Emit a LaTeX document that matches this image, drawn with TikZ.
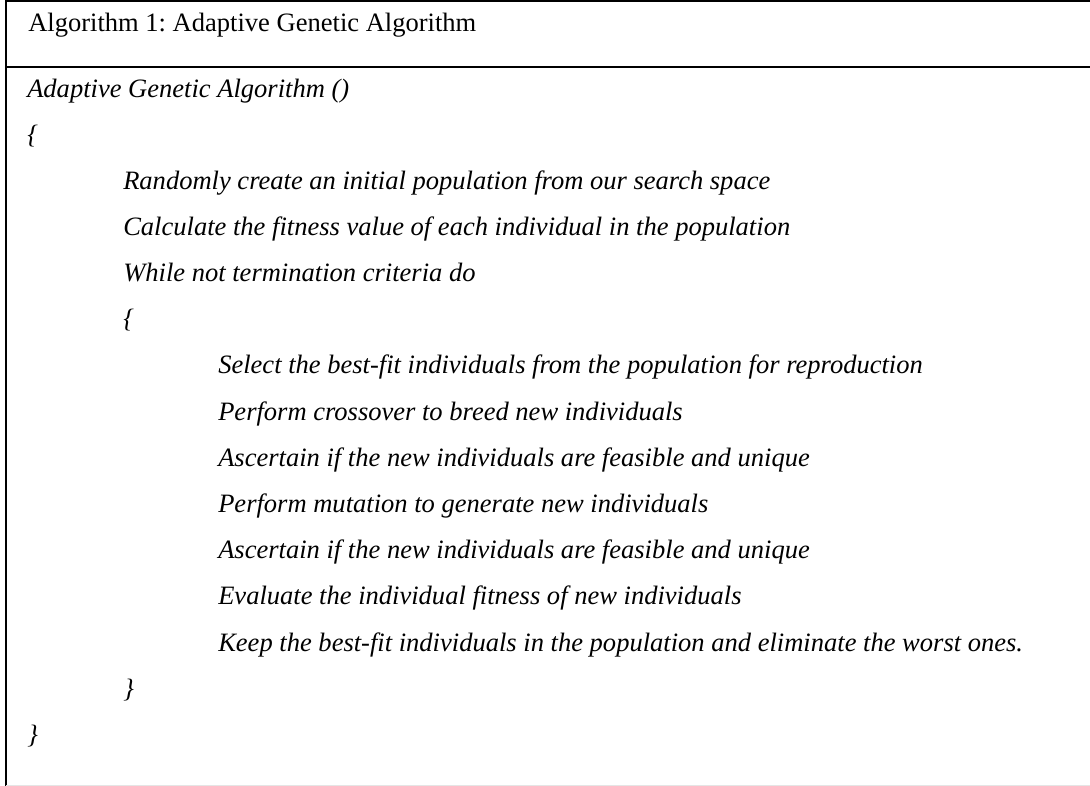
\documentclass[tikz,border=0pt]{standalone}
\usepackage{fontspec}
\setmainfont{Liberation Serif}
\usetikzlibrary{positioning}
\frenchspacing

\begin{document}
\begin{tikzpicture}[x=0.75pt,y=-0.75pt,
    rule/.style={line width=1.5pt},
    head/.style={anchor=west,inner sep=0pt,text height=0.7em,text depth=0.2em,font=\fontsize{19.9}{24}\selectfont},
    code/.style={head,font=\fontsize{19.9}{24}\selectfont\itshape}]
    \useasboundingbox (0,0) rectangle (1090,786);
    \draw[rule] (6,0) -- (6,786); % left edge
    \draw[rule] (6,1) -- (1090,1); % top edge
    \draw[rule] (6,67) -- (1090,67); % under the title
    \draw[black!10] (6,785.5) -- (1090,785.5);

    \node[head] (title) at (28,28) {Algorithm 1: Adaptive Genetic Algorithm};

    \node[code] (fn)    at (27,94)  {Adaptive Genetic Algorithm ()};
    \node[code] (open)  at (27,140) {\{};
    \node[code] (init)  at (123,186) {Randomly create an initial population from our search space};
    \node[code] (fit)   at (123,232) {Calculate the fitness value of each individual in the population};
    \node[code] (loop)  at (123,278) {While not termination criteria do};
    \node[code] (lopen) at (123,324) {\{};
    \node[code] (sel)   at (218,370) {Select the best-fit individuals from the population for reproduction};
    \node[code] (cross) at (218,417) {Perform crossover to breed new individuals};
    \node[code] (chk1)  at (218,463) {Ascertain if the new individuals are feasible and unique};
    \node[code] (mut)   at (218,509) {Perform mutation to generate new individuals};
    \node[code] (chk2)  at (218,555) {Ascertain if the new individuals are feasible and unique};
    \node[code] (eval)  at (218,601) {Evaluate the individual fitness of new individuals};
    \node[code] (keep)  at (218,648) {Keep the best-fit individuals in the population and eliminate the worst ones.};
    \node[code] (lclose) at (123,694) {\}};
    \node[code] (close) at (27,740) {\}};
\end{tikzpicture}
\end{document}
